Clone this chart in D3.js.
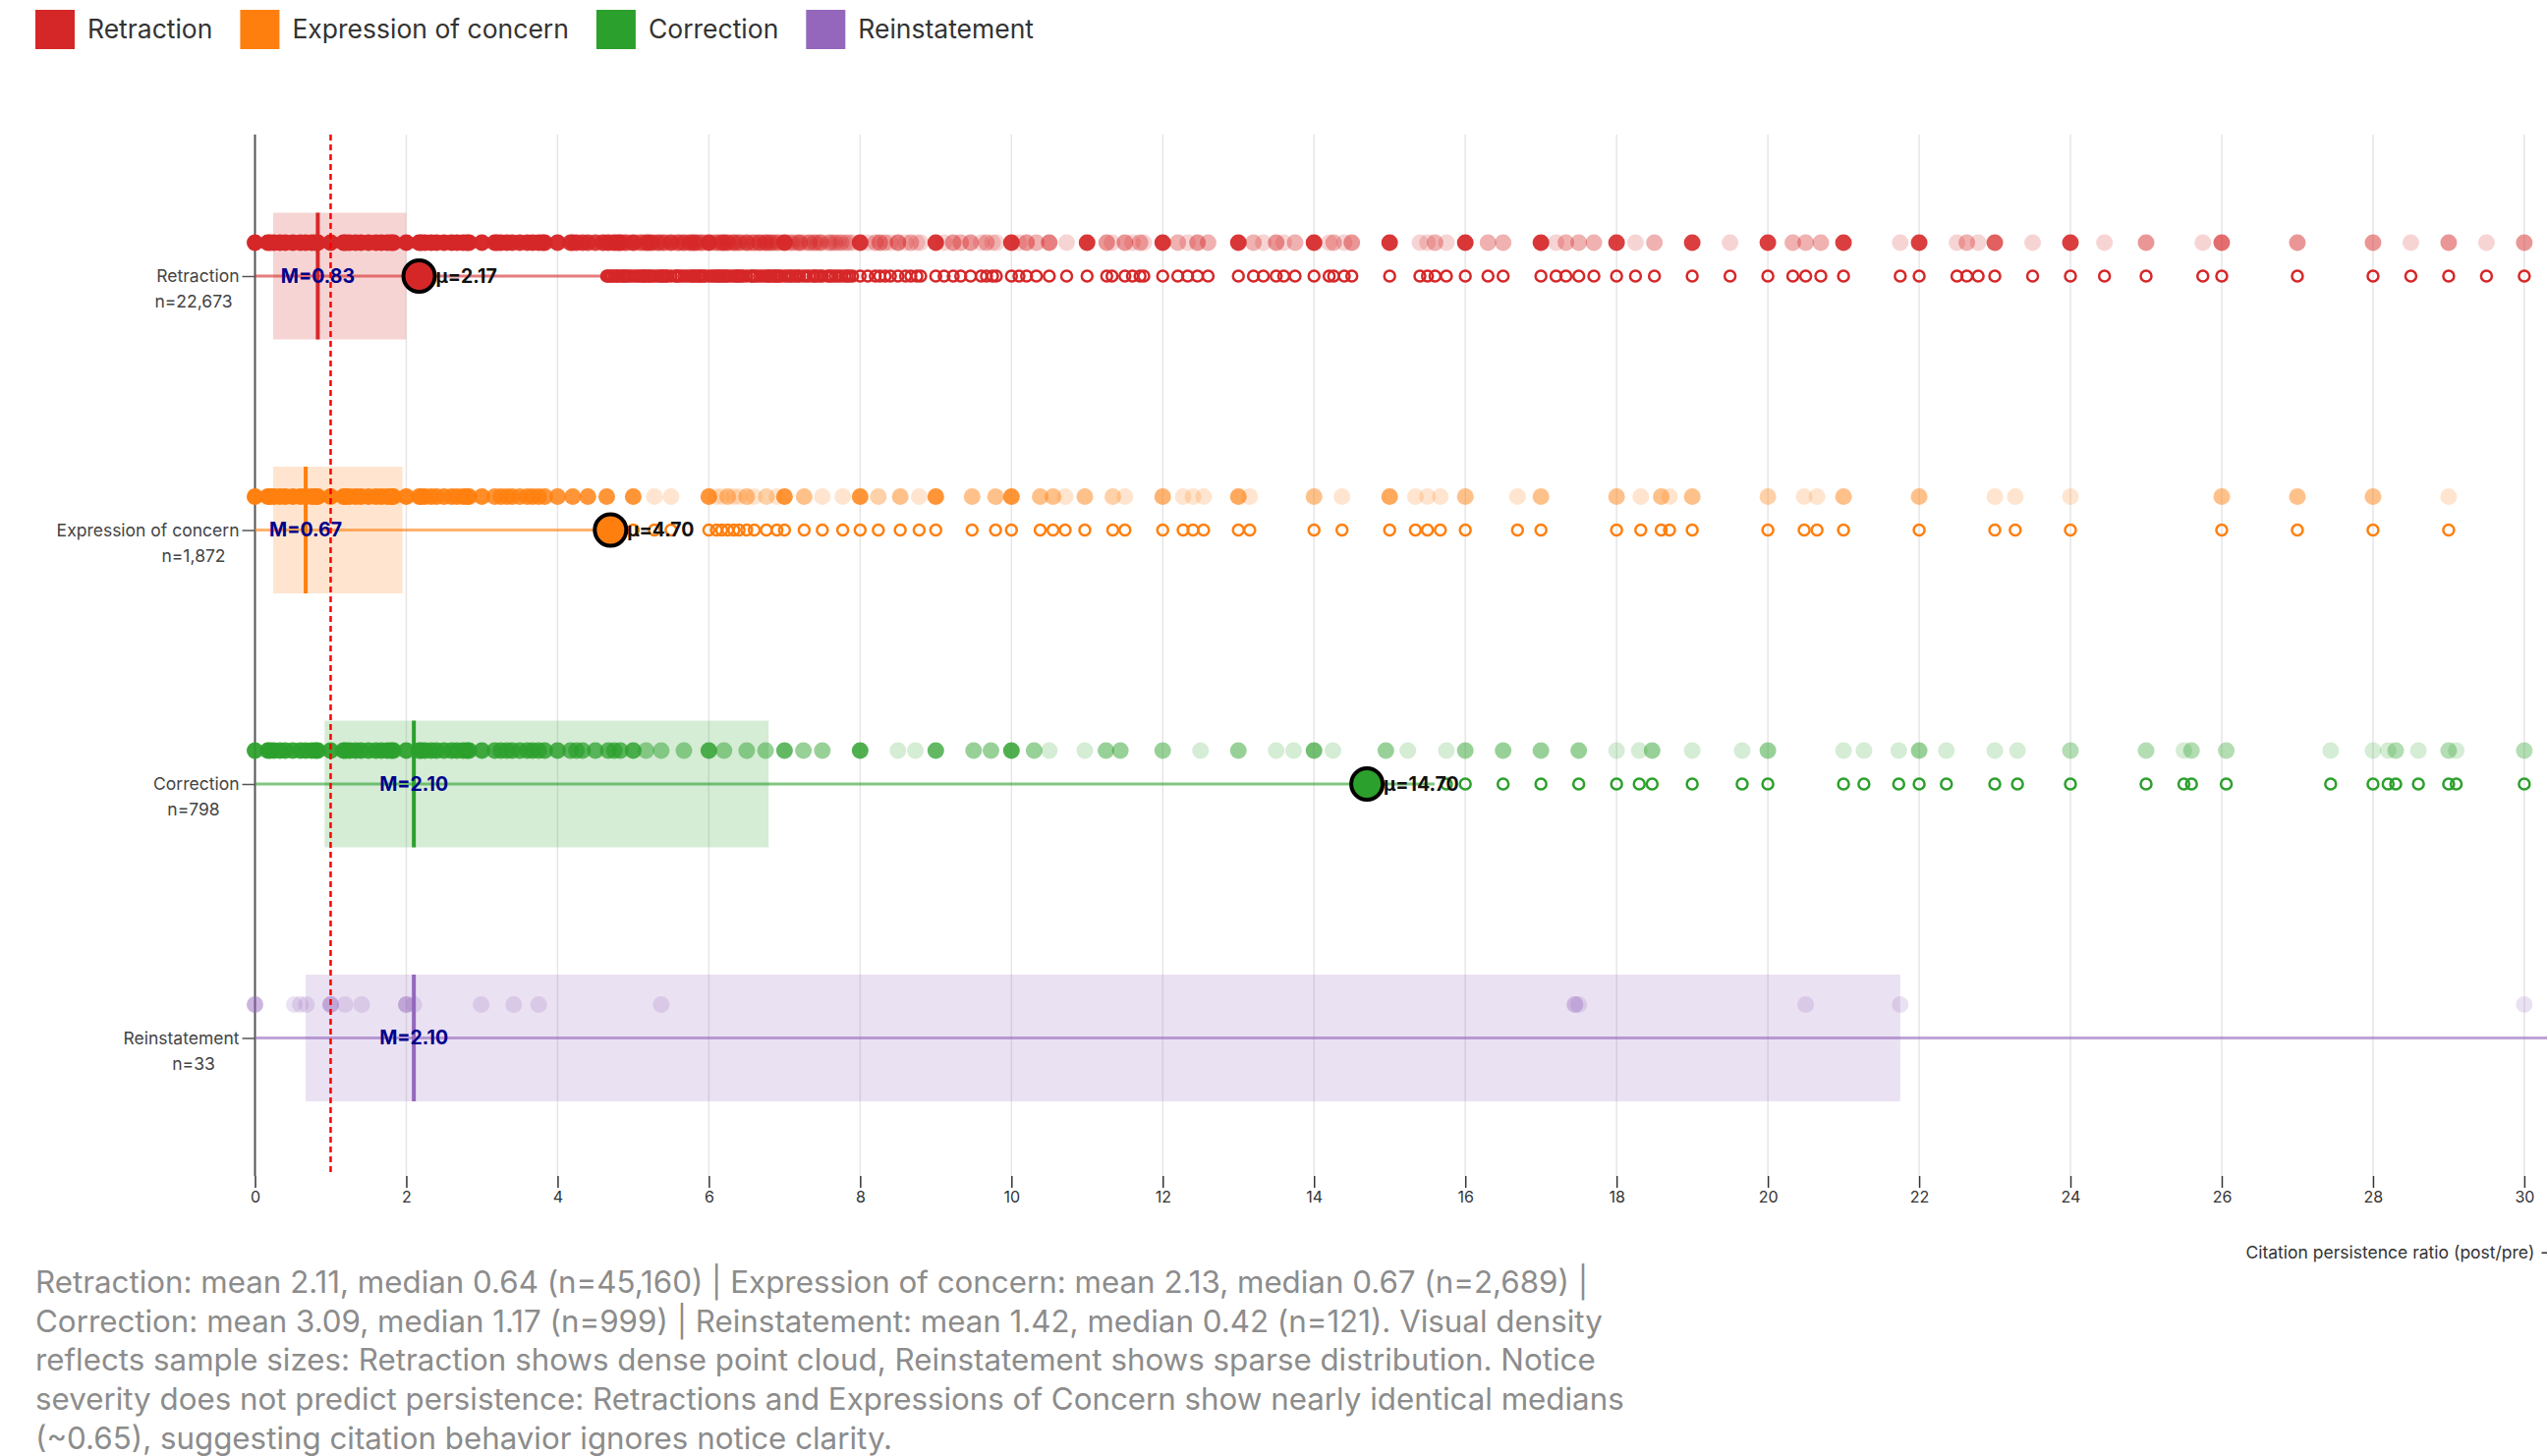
<!DOCTYPE html>
<html>
<head>
<meta charset="utf-8">
<script src="https://cdn.jsdelivr.net/npm/d3@7"></script>
<style>
  html, body { margin: 0; padding: 0; overflow: hidden; background: #fff; }
  body { width: 2592px; height: 1482px; position: relative; font-family: Inter, "Noto Sans", sans-serif; }
  #chart { position: absolute; left: 0; top: 0; }
  #caption { position: absolute; left: 36px; top: 1286px; font-size: 31.3px; line-height: 39.7px; color: #8c8c8c; white-space: nowrap; }
</style>
</head>
<body>
<svg id="chart"></svg>
<div id="caption"></div>
<script>
const categories = ["Retraction", "Expression of concern", "Correction", "Reinstatement"];
const colors = ["#d62728", "#ff7f0e", "#2ca02c", "#9467bd"];
const counts = [22673, 1872, 798, 33];
const q1s = [0.24, 0.24, 0.92, 0.67];
const medians = [0.83, 0.67, 2.10, 2.10];
const q3s = [2.0, 1.95, 6.79, 21.75];
const means = [2.17, 4.70, 14.70, null];
const xTicks = [0, 2, 4, 6, 8, 10, 12, 14, 16, 18, 20, 22, 24, 26, 28, 30];

// [ratio, number of notices at that ratio]
const retractionDots = [
  [0, 30], [0.17, 30], [0.2, 30], [0.25, 30], [0.33, 30], [0.4, 30], [0.5, 30], [0.6, 30], [0.67, 30], [0.75, 30], [0.8, 30], [0.83, 30],
  [1, 30], [1.17, 30], [1.2, 30], [1.25, 30], [1.33, 30], [1.4, 30], [1.5, 30], [1.6, 30], [1.67, 30], [1.75, 30], [1.8, 30], [1.83, 30],
  [2, 30], [2.17, 25], [2.2, 25], [2.25, 25], [2.33, 25], [2.4, 25], [2.5, 25], [2.6, 25], [2.67, 25], [2.75, 25], [2.8, 25], [2.83, 25],
  [3, 20], [3.17, 15], [3.2, 15], [3.25, 15], [3.33, 15], [3.4, 15], [3.5, 15], [3.6, 15], [3.67, 15], [3.75, 15], [3.8, 15], [3.83, 15],
  [4, 15], [4.17, 10], [4.2, 10], [4.25, 10], [4.33, 10], [4.4, 10], [4.5, 10], [4.6, 10], [4.67, 10], [4.75, 10], [4.8, 10], [4.83, 10], [4.9, 6],
  [4.62, 1], [4.65, 1], [4.7, 1], [4.72, 1], [4.78, 1], [4.86, 1], [4.88, 1], [4.93, 1], [4.96, 1],
  [5, 12], [5.1, 4], [5.17, 5], [5.2, 6], [5.25, 6], [5.33, 6], [5.4, 4], [5.5, 8], [5.6, 5], [5.67, 6], [5.75, 6], [5.8, 5], [5.83, 4], [5.9, 3],
  [5.04, 1], [5.07, 1], [5.13, 1], [5.14, 1], [5.22, 1], [5.29, 1], [5.36, 1], [5.38, 1], [5.43, 1], [5.45, 1],
  [5.56, 1], [5.57, 1], [5.63, 1], [5.71, 1], [5.78, 1], [5.86, 1], [5.88, 1], [5.93, 1], [5.95, 1],
  [6, 12], [6.1, 3], [6.17, 4], [6.2, 5], [6.25, 5], [6.33, 5], [6.4, 3], [6.5, 6], [6.6, 3], [6.67, 5], [6.75, 5], [6.8, 2], [6.83, 3], [6.9, 2],
  [6.04, 1], [6.07, 1], [6.13, 1], [6.14, 1], [6.22, 1], [6.29, 1], [6.36, 1], [6.38, 1], [6.43, 1], [6.45, 1],
  [6.56, 1], [6.57, 1], [6.63, 1], [6.71, 1], [6.78, 1], [6.86, 1], [6.88, 1], [6.93, 1], [6.95, 1],
  [7, 12], [7.1, 2], [7.2, 4], [7.33, 3], [7.4, 2], [7.47, 3], [7.6, 2], [7.67, 2], [7.75, 2], [7.8, 1],
  [7.04, 1], [7.07, 1], [7.14, 1], [7.17, 1], [7.25, 1], [7.29, 1], [7.38, 1], [7.43, 1], [7.5, 1], [7.57, 1],
  [7.63, 1], [7.71, 1], [7.83, 1], [7.86, 1], [7.9, 1],
  [8, 12], [8.1, 1], [8.2, 2], [8.26, 3], [8.33, 2], [8.4, 1], [8.5, 4], [8.6, 1], [8.67, 2], [8.75, 1], [8.8, 1],
  [9, 12], [9.11, 1], [9.23, 3], [9.33, 2], [9.46, 3], [9.6, 1], [9.67, 2], [9.75, 1], [9.8, 1],
  [10, 12], [10.1, 1], [10.2, 3], [10.33, 2], [10.5, 4], [10.73, 1], [11, 12], [11.26, 3], [11.33, 1], [11.5, 3], [11.6, 1], [11.7, 2], [11.75, 1],
  [12, 12], [12.2, 2], [12.33, 1], [12.46, 3], [12.6, 2], [13, 12], [13.2, 2], [13.33, 1], [13.5, 3], [13.6, 1], [13.75, 2],
  [14, 12], [14.2, 1], [14.26, 2], [14.4, 1], [14.5, 3], [15, 12], [15.4, 1], [15.5, 1], [15.6, 2], [15.75, 1],
  [16, 12], [16.3, 2], [16.5, 2], [17, 12], [17.2, 1], [17.33, 2], [17.5, 2], [17.7, 2], [18, 10], [18.25, 1], [18.5, 2],
  [19, 10], [19.5, 1], [20, 10], [20.33, 2], [20.5, 2], [20.7, 2], [21, 10], [21.75, 1], [22, 10], [22.5, 1], [22.63, 2], [22.78, 1],
  [23, 6], [23.5, 1], [24, 10], [24.45, 1], [25, 3], [25.75, 1], [26, 5], [27, 3], [28, 3], [28.5, 1], [29, 3], [29.5, 1], [30, 3]
];
const concernDots = [
  [0, 20], [0.17, 20], [0.2, 20], [0.25, 20], [0.33, 20], [0.4, 20], [0.5, 20], [0.6, 20], [0.67, 20], [0.75, 20], [0.8, 20], [0.83, 20],
  [1, 20], [1.17, 15], [1.2, 15], [1.25, 15], [1.33, 15], [1.4, 15], [1.5, 15], [1.6, 15], [1.67, 15], [1.75, 15], [1.8, 15], [1.83, 15],
  [2, 15], [2.17, 10], [2.2, 10], [2.25, 10], [2.33, 10], [2.4, 10], [2.5, 10], [2.6, 10], [2.67, 10], [2.75, 10], [2.8, 10], [2.83, 10],
  [3, 10], [3.17, 8], [3.25, 8], [3.33, 8], [3.4, 8], [3.5, 8], [3.6, 8], [3.67, 8], [3.75, 8], [3.83, 8],
  [4, 8], [4.2, 8], [4.4, 8], [4.65, 8], [5, 8], [5.28, 1], [5.5, 1],
  [6, 8], [6.1, 1], [6.17, 1], [6.25, 3], [6.33, 1], [6.4, 1], [6.5, 3], [6.6, 1], [6.76, 2], [6.9, 1],
  [7, 8], [7.26, 3], [7.5, 1], [7.77, 1], [8, 8], [8.24, 2], [8.53, 3], [8.78, 1],
  [9, 8], [9.48, 3], [9.79, 3], [10, 8], [10.38, 3], [10.55, 3], [10.71, 1], [10.97, 3], [11.34, 2], [11.5, 1],
  [12, 4], [12.27, 1], [12.4, 1], [12.54, 1], [13, 5], [13.15, 1], [14, 3], [14.37, 1], [15, 5], [15.34, 1], [15.5, 1], [15.67, 1],
  [16, 3], [16.69, 1], [17, 3], [18, 3], [18.32, 1], [18.59, 3], [18.7, 1], [19, 3], [20, 2], [20.48, 1], [20.65, 1], [21, 3],
  [22, 3], [23, 1], [23.27, 1], [24, 1], [26, 3], [27, 3], [28, 3], [29, 1]
];
const correctionDots = [
  [0, 12], [0.17, 12], [0.2, 12], [0.25, 12], [0.33, 12], [0.4, 12], [0.5, 12], [0.6, 12], [0.67, 12], [0.75, 12], [0.8, 12], [0.83, 12],
  [1, 12], [1.17, 12], [1.2, 12], [1.25, 12], [1.33, 12], [1.4, 12], [1.5, 12], [1.6, 12], [1.67, 12], [1.75, 12], [1.8, 12], [1.83, 12],
  [2, 12], [2.17, 10], [2.2, 10], [2.25, 10], [2.33, 10], [2.4, 10], [2.5, 10], [2.6, 10], [2.67, 10], [2.75, 10], [2.8, 10], [2.83, 10],
  [3, 10], [3.17, 8], [3.25, 8], [3.33, 8], [3.4, 8], [3.5, 8], [3.6, 8], [3.67, 8], [3.75, 8], [3.83, 8],
  [4, 8], [4.17, 6], [4.25, 6], [4.33, 6], [4.5, 6], [4.67, 6], [4.75, 6], [4.83, 6],
  [5, 8], [5.17, 3], [5.37, 3], [5.67, 3], [6, 8], [6.2, 3], [6.5, 3], [6.75, 3], [7, 6], [7.25, 3], [7.5, 3],
  [8, 8], [8.5, 1], [8.73, 1], [9, 6], [9.5, 3], [9.73, 3], [10, 8], [10.3, 3], [10.5, 1], [10.97, 1], [11.25, 3], [11.44, 3],
  [12, 3], [12.5, 1], [13, 3], [13.5, 1], [13.73, 1], [14, 5], [14.25, 1], [14.95, 3], [15.24, 1], [15.75, 1],
  [16, 3], [16.5, 3], [17, 3], [17.5, 3], [18, 1], [18.3, 1], [18.47, 3], [19, 1], [19.66, 1], [20, 3],
  [21, 1], [21.27, 1], [21.73, 1], [22, 3], [22.36, 1], [23, 1], [23.3, 1], [24, 2], [25, 2], [25.5, 1], [25.6, 2], [26.06, 2],
  [27.44, 1], [28, 1], [28.2, 1], [28.3, 2], [28.6, 1], [29, 2], [29.1, 1], [30, 2]
];
// last few reinstatement values lie beyond the visible end of the axis
const reinstatementDots = [
  [0, 3], [0.52, 1], [0.6, 1], [0.68, 1], [1, 3], [1.19, 1], [1.41, 1], [2, 3], [2.1, 1], [2.99, 1], [3.42, 1], [3.75, 1],
  [5.37, 1], [17.45, 2], [17.5, 1], [20.5, 1], [21.75, 1], [30, 1], [34, 1], [38, 1], [42, 1], [47, 1], [51, 1], [53, 1], [58, 1]
];
const dotSets = [retractionDots, concernDots, correctionDots, reinstatementDots];

const captionLines = [
  "Retraction: mean 2.11, median 0.64 (n=45,160) | Expression of concern: mean 2.13, median 0.67 (n=2,689) |",
  "Correction: mean 3.09, median 1.17 (n=999) | Reinstatement: mean 1.42, median 0.42 (n=121). Visual density",
  "reflects sample sizes: Retraction shows dense point cloud, Reinstatement shows sparse distribution. Notice",
  "severity does not predict persistence: Retractions and Expressions of Concern show nearly identical medians",
  "(~0.65), suggesting citation behavior ignores notice clarity."
];

const font = "Inter, 'Noto Sans', sans-serif";
const svg = d3.select("#chart").attr("width", 2592).attr("height", 1290);

// legend
const legend = svg.append("g").attr("transform", "translate(36,10)");
let lx = 0;
categories.forEach((c, i) => {
  const item = legend.append("g").attr("transform", `translate(${lx},0)`);
  item.append("rect").attr("width", 40).attr("height", 40).attr("fill", colors[i]);
  const t = item.append("text")
    .attr("x", 53).attr("y", 20).attr("dy", "0.35em")
    .attr("font-family", font).attr("font-size", 26.5).attr("fill", "#333")
    .text(c);
  lx += 53 + t.node().getComputedTextLength() + 28;
});

const margin = { top: 137, left: 259.5 };
const unit = 76.98;
const innerWidth = 31 * unit;
const innerHeight = 1060;

const x = d3.scaleLinear().domain([0, 31]).range([0, innerWidth]);
const y = d3.scalePoint().domain(categories).range([144, 919.5]);

const g = svg.append("g").attr("transform", `translate(${margin.left},${margin.top})`);

g.append("g").selectAll("line").data(xTicks).join("line")
  .attr("x1", d => x(d)).attr("x2", d => x(d))
  .attr("y1", 0).attr("y2", innerHeight)
  .attr("stroke", "#e6e6e6").attr("stroke-width", 1.5);

const xAxis = g.append("g")
  .attr("transform", `translate(0,${innerHeight})`)
  .call(d3.axisBottom(x).tickValues(xTicks).tickSize(12).tickPadding(4))
  .attr("font-family", font).attr("font-size", 16).attr("fill", null);
xAxis.select(".domain").remove();
xAxis.selectAll("line").attr("stroke", "#333").attr("stroke-width", 1.5);
xAxis.selectAll("text").attr("fill", "#333");

const yAxis = g.append("g")
  .call(d3.axisLeft(y).tickSize(13).tickPadding(3))
  .attr("font-family", font).attr("font-size", 17.5).attr("fill", null);
yAxis.select(".domain").remove();
yAxis.selectAll("line").attr("stroke", "#555").attr("stroke-width", 1.5);
yAxis.selectAll("text").attr("fill", "#444");
yAxis.selectAll(".tick").append("text")
  .attr("x", -62.5).attr("y", 26).attr("dy", "0.32em")
  .attr("text-anchor", "middle").attr("fill", "#444")
  .text((d, i) => "n=" + d3.format(",")(counts[i]));

g.append("line")
  .attr("x1", 0).attr("x2", 0).attr("y1", 0).attr("y2", innerHeight)
  .attr("stroke", "#555").attr("stroke-width", 2);

const rows = categories.map((c, i) => ({
  name: c, color: colors[i], q1: q1s[i], median: medians[i], q3: q3s[i], mean: means[i], dots: dotSets[i]
}));

rows.forEach(r => {
  const cy = y(r.name);
  const row = g.append("g");
  const iqr = r.q3 - r.q1;
  const lo = Math.max(d3.min(r.dots, d => d[0]), r.q1 - 1.5 * iqr);
  const hi = Math.min(d3.max(r.dots, d => d[0]), r.q3 + 1.5 * iqr);

  row.append("rect")
    .attr("x", x(r.q1)).attr("width", x(r.q3) - x(r.q1))
    .attr("y", cy - 64.5).attr("height", 129)
    .attr("fill", r.color).attr("fill-opacity", 0.2);

  row.append("line")
    .attr("x1", x(lo)).attr("x2", x(hi)).attr("y1", cy).attr("y2", cy)
    .attr("stroke", r.color).attr("stroke-width", 3).attr("stroke-opacity", 0.6);

  row.append("line")
    .attr("x1", x(r.median)).attr("x2", x(r.median))
    .attr("y1", cy - 64.5).attr("y2", cy + 64.5)
    .attr("stroke", r.color).attr("stroke-width", 4);

  row.append("g").selectAll("circle").data(r.dots).join("circle")
    .attr("cx", d => x(d[0])).attr("cy", cy - 34).attr("r", 8.5)
    .attr("fill", r.color)
    .attr("fill-opacity", d => 1 - Math.pow(0.8, d[1]));

  row.append("g").selectAll("circle").data(r.dots.filter(d => d[0] > hi || d[0] < lo)).join("circle")
    .attr("cx", d => x(d[0])).attr("cy", cy).attr("r", 5.5)
    .attr("fill", "none").attr("stroke", r.color).attr("stroke-width", 2.5);

  if (r.mean != null) {
    row.append("circle")
      .attr("cx", x(r.mean)).attr("cy", cy).attr("r", 16)
      .attr("fill", r.color).attr("stroke", "#000").attr("stroke-width", 4);
    row.append("text")
      .attr("x", x(r.mean) + 17).attr("y", cy).attr("dy", "0.35em")
      .attr("font-family", font).attr("font-size", 19.5).attr("font-weight", "bold").attr("fill", "#111")
      .text("μ=" + r.mean.toFixed(2));
  }

  row.append("text")
    .attr("x", x(r.median)).attr("y", cy).attr("dy", "0.35em")
    .attr("text-anchor", "middle")
    .attr("font-family", font).attr("font-size", 19.5).attr("font-weight", "bold").attr("fill", "#00008b")
    .text("M=" + r.median.toFixed(2));
});

g.append("line")
  .attr("x1", x(1)).attr("x2", x(1)).attr("y1", 0).attr("y2", innerHeight)
  .attr("stroke", "red").attr("stroke-width", 2.5).attr("stroke-dasharray", "6,4");

g.append("text")
  .attr("x", x(30) + 32).attr("y", innerHeight + 84)
  .attr("text-anchor", "end")
  .attr("font-family", font).attr("font-size", 17.5).attr("fill", "#333")
  .text("Citation persistence ratio (post/pre) →");

d3.select("#caption").html(captionLines.join("<br>"));
</script>
</body>
</html>
